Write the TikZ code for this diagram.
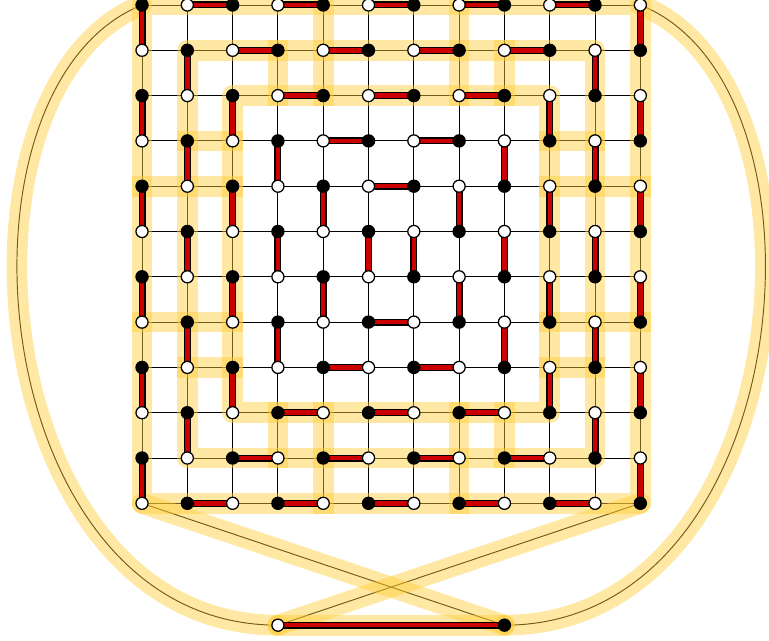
\documentclass[tikz,border=0pt]{standalone}
\usepackage{xcolor}
\usepackage{tikz}
\usetikzlibrary{calc}

\pgfdeclarelayer{back}
\pgfdeclarelayer{glow}
\pgfdeclarelayer{pairs}
\pgfsetlayers{back,glow,pairs,main}

\definecolor{pairred}{RGB}{204,0,0}
\definecolor{glowyellow}{RGB}{255,204,51}

\begin{document}
\begin{tikzpicture}[
    x=1cm,
    y=1cm,
    vtx/.style={circle,draw=black,line width=0.8pt,inner sep=0pt,minimum size=7.6pt},
    blk/.style={vtx,fill=black},
    wht/.style={vtx,fill=white},
    lnk/.style={line width=0.6pt},
    matched/.style={line width=0.8pt,draw=black,double=pairred,double distance=2.8pt},
    glow/.style={line width=13pt,draw=glowyellow,draw opacity=0.45,
        line join=round,line cap=round},
    rung/.style={glow,line cap=rect}
]

\useasboundingbox (-3.135,0.110) rectangle (13.84,-14.02);

% Vertices of the grid
\foreach \i in {0,...,11}
  \foreach \j in {0,...,11} {
    \pgfmathtruncatemacro\s{\i+\j}
    \ifodd\s
      \node[wht] (v-\i-\j) at (\i,-\j) {};
    \else
      \node[blk] (v-\i-\j) at (\i,-\j) {};
    \fi
  }

% Extra vertices
\node[wht] (ext-w) at (3,-13.69) {};
\node[blk] (ext-b) at (8,-13.69) {};

% Grid edges
\begin{pgfonlayer}{back}
\foreach \i [evaluate=\i as \ii using int(\i+1)] in {0,...,10}
  \foreach \j in {0,...,11} {
    \draw[lnk] (v-\i-\j.center) -- (v-\ii-\j.center);
    \draw[lnk] (v-\j-\i.center) -- (v-\j-\ii.center);
  }
\draw[lnk] (v-0-0.center)
    .. controls +(-4.5,-1.8) and +(-6.5,0) ..
    (ext-w.center);
\draw[lnk] (v-11-0.center)
    .. controls +(4.5,-1.8) and +(6.5,0) ..
    (ext-b.center);
\draw[lnk] (v-0-11.center) -- (ext-b.center);
\draw[lnk] (v-11-11.center) -- (ext-w.center);
\end{pgfonlayer}

% Highlighted cycle
\begin{pgfonlayer}{glow}
\foreach \k [evaluate=\k as \m using int(11-\k)] in {0,1,2}
  \draw[glow] (v-\k-\k.center) -- (v-\m-\k.center)
      -- (v-\m-\m.center) -- (v-\k-\m.center) -- cycle;
\foreach \a/\b in {4-0/4-2,3-1/3-2,7-0/7-2,8-1/8-2,
    4-9/4-11,3-9/3-10,7-9/7-11,8-9/8-10,
    0-4/2-4,1-3/2-3,0-7/2-7,1-8/2-8,
    9-4/11-4,9-3/10-3,9-7/11-7,9-8/10-8}
  \draw[rung] (v-\a.center) -- (v-\b.center);
\draw[glow] (v-0-0.center)
    .. controls +(-4.5,-1.8) and +(-6.5,0) ..
    (ext-w.center);
\draw[glow] (v-11-0.center)
    .. controls +(4.5,-1.8) and +(6.5,0) ..
    (ext-b.center);
\draw[glow] (v-0-11.center) -- (ext-b.center);
\draw[glow] (v-11-11.center) -- (ext-w.center);
\draw[glow] (ext-w.center) -- (ext-b.center);
\end{pgfonlayer}

% Perfect matching
\begin{pgfonlayer}{pairs}
% horizontal pairs
\foreach \i/\j [evaluate=\i as \ii using int(\i+1)] in {
    1/0,3/0,5/0,7/0,9/0, 2/1,4/1,6/1,8/1, 3/2,5/2,7/2, 4/3,6/3, 5/4,
    5/7, 4/8,6/8, 3/9,5/9,7/9, 2/10,4/10,6/10,8/10,
    1/11,3/11,5/11,7/11,9/11}
  \draw[matched] (v-\i-\j.center) -- (v-\ii-\j.center);
% vertical pairs
\foreach \i/\j [evaluate=\j as \jj using int(\j+1)] in {
    0/0,0/2,0/4,0/6,0/8,0/10, 1/1,1/3,1/5,1/7,1/9, 2/2,2/4,2/6,2/8,
    3/3,3/5,3/7, 4/4,4/6, 5/5, 6/5, 7/4,7/6, 8/3,8/5,8/7,
    9/2,9/4,9/6,9/8, 10/1,10/3,10/5,10/7,10/9,
    11/0,11/2,11/4,11/6,11/8,11/10}
  \draw[matched] (v-\i-\j.center) -- (v-\i-\jj.center);
\draw[matched] (ext-w.center) -- (ext-b.center);
\end{pgfonlayer}

\end{tikzpicture}
\end{document}
